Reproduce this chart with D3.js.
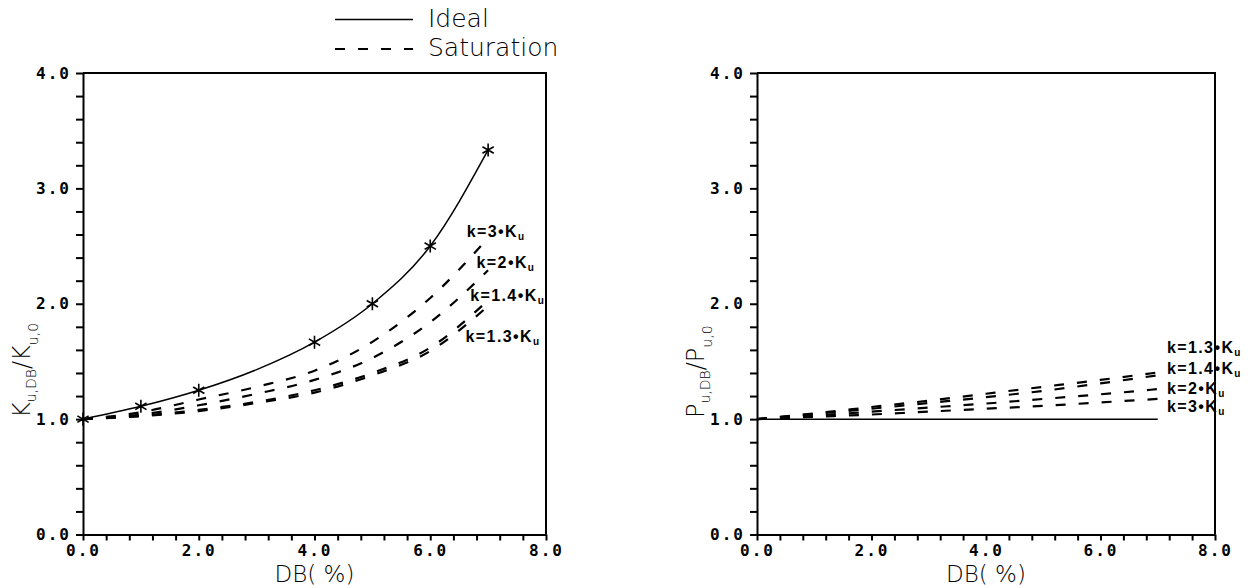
<!DOCTYPE html>
<html><head><meta charset="utf-8">
<script src="https://cdn.jsdelivr.net/npm/d3@7"></script>
<style>
body{margin:0;background:#fff}
.tick text{font-family:"DejaVu Sans Mono",monospace;font-weight:bold;font-size:16px;letter-spacing:2px}
.thin{font-family:"DejaVu Sans",sans-serif;font-weight:200}
.klab{font-family:"Liberation Sans",Arial,sans-serif;font-weight:bold;font-size:16px;letter-spacing:1.4px}
</style>
</head><body><svg id="c" width="1248" height="588"></svg>
<script>
// DB (%) sample points shared by every curve
const dbPct = [0, 1, 2, 3, 4, 5, 6, 7];

// Stiffness ratio K_u,DB / K_u,0
const idealK = [1.0, 1.111, 1.25, 1.429, 1.667, 2.0, 2.5, 3.333];
const idealKMarks = [0, 1, 2, 4, 5, 6, 7];
const satK_k3  = [1.0, 1.06, 1.17, 1.28, 1.42, 1.67, 2.05, 2.57];
const satK_k2  = [1.0, 1.04, 1.12, 1.22, 1.34, 1.53, 1.84, 2.29];
const satK_k14 = [1.0, 1.03, 1.08, 1.15, 1.25, 1.40, 1.62, 2.03];
const satK_k13 = [1.0, 1.025, 1.07, 1.14, 1.23, 1.38, 1.59, 1.98];

// Strength ratio P_u,DB / P_u,0
const idealP   = [1, 1, 1, 1, 1, 1, 1, 1];
const satP_k13 = [1.0, 1.05, 1.105, 1.16, 1.22, 1.28, 1.34, 1.405];
const satP_k14 = [1.0, 1.045, 1.09, 1.14, 1.19, 1.245, 1.31, 1.38];
const satP_k2  = [1.0, 1.03, 1.065, 1.10, 1.135, 1.175, 1.215, 1.26];
const satP_k3  = [1.0, 1.02, 1.04, 1.065, 1.09, 1.115, 1.145, 1.175];

// curve labels: multiplier, anchor (DB, ratio)
const kLabelsK = [["3", 6.63, 2.58], ["2", 6.80, 2.31], ["1.4", 6.69, 2.02], ["1.3", 6.61, 1.67]];
const kLabelsP = [["1.3", 7.16, 1.57], ["1.4", 7.16, 1.395], ["2", 7.16, 1.22], ["3", 7.16, 1.065]];

const xTicks = d3.range(0, 8.001, 0.4);
const yTicks = d3.range(0, 4.001, 0.2);

const svg = d3.select("#c");
const DASH = "10,13";

function panel(left, right, ideal, marks, sats, labels, sym) {
  const x = d3.scaleLinear().domain([0, 8]).range([left, right]);
  const y = d3.scaleLinear().domain([0, 4]).range([534.5, 73]);
  const g = svg.append("g");

  const major = v => Math.abs(v - Math.round(v / 2) * 2) < 1e-6;
  g.append("g").attr("transform", `translate(0,${y(0)})`)
    .call(d3.axisBottom(x).tickValues(xTicks).tickSize(6).tickSizeOuter(0).tickPadding(4)
      .tickFormat(d => major(d) ? d.toFixed(1) : ""))
    .call(s => s.selectAll("line,path").attr("stroke", "#000").attr("stroke-width", 2));
  g.append("g").attr("transform", `translate(${x(0)},0)`)
    .call(d3.axisLeft(y).tickValues(yTicks).tickSize(7).tickSizeOuter(0).tickPadding(5)
      .tickFormat(d => Math.abs(d - Math.round(d)) < 1e-6 ? d.toFixed(1) : ""))
    .call(s => s.selectAll("line,path").attr("stroke", "#000").attr("stroke-width", 2));
  g.selectAll(".tick text").attr("fill", "#000");
  // top and right frame
  g.append("path").attr("d", `M${x(0)},${y(4)}H${x(8)}V${y(0)}`)
    .attr("fill", "none").attr("stroke", "#000").attr("stroke-width", 2);

  const line = d3.line().x((d, i) => x(dbPct[i])).y(d => y(d)).curve(d3.curveMonotoneX);
  sats.forEach(s => g.append("path").attr("d", line(s)).attr("fill", "none")
    .attr("stroke", "#000").attr("stroke-width", 2.2).attr("stroke-dasharray", DASH));
  g.append("path").attr("d", line(ideal)).attr("fill", "none")
    .attr("stroke", "#000").attr("stroke-width", 1.5);

  const star = d3.symbol().type(d3.symbolAsterisk).size(120);
  g.selectAll(".mk").data(marks).join("path")
    .attr("transform", d => `translate(${x(d)},${y(ideal[dbPct.indexOf(d)])})`)
    .attr("d", star).attr("stroke", "#000").attr("stroke-width", 1.6).attr("fill", "none");

  labels.forEach(([k, dx, dy]) => {
    const t = g.append("text").attr("class", "klab").attr("x", x(dx)).attr("y", y(dy));
    t.append("tspan").text(`k=${k}\u2022K`);
    t.append("tspan").attr("font-size", 10).attr("dy", 3).text("u");
  });

  // axis titles
  g.append("text").attr("class", "thin").attr("x", (left + right) / 2).attr("y", 582)
    .attr("text-anchor", "middle").attr("font-size", 23).text("DB( %)");
  const yt = g.append("text").attr("class", "thin").attr("font-size", 24)
    .attr("transform", `translate(${left - 53},418) rotate(-90)`);
  yt.append("tspan").text(sym);
  yt.append("tspan").attr("font-size", 14).attr("dy", 6).text("u,DB");
  yt.append("tspan").attr("dy", -6).text("/" + sym);
  yt.append("tspan").attr("font-size", 14).attr("dy", 8).text("u,0");
}

panel(83, 546, idealK, idealKMarks, [satK_k3, satK_k2, satK_k14, satK_k13], kLabelsK, "K");
panel(757, 1215, idealP, [], [satP_k13, satP_k14, satP_k2, satP_k3], kLabelsP, "P");

// legend
const legend = svg.append("g");
[["Ideal", null, 19.5, 27], ["Saturation", DASH, 49, 56]].forEach(([name, dash, ly, ty]) => {
  legend.append("line").attr("x1", 335).attr("x2", 413).attr("y1", ly).attr("y2", ly)
    .attr("stroke", "#000").attr("stroke-width", dash ? 2.2 : 1.6).attr("stroke-dasharray", dash);
  legend.append("text").attr("class", "thin").attr("x", 428).attr("y", ty)
    .attr("font-size", 25).text(name);
});
</script>
</body></html>
